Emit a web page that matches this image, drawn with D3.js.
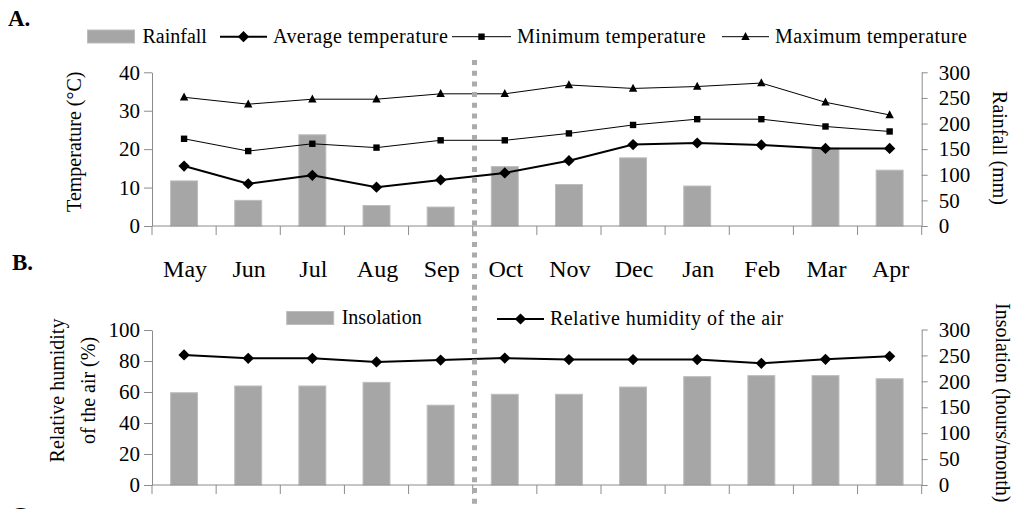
<!DOCTYPE html>
<html>
<head>
<meta charset="utf-8">
<script src="https://cdn.jsdelivr.net/npm/d3@7/dist/d3.min.js"></script>
<style>
  html, body { margin: 0; padding: 0; background: #fff; }
</style>
</head>
<body>
<svg id="chart" width="1017" height="509"></svg>
<script>
// Monthly climate series, May to April
const months = ["May","Jun","Jul","Aug","Sep","Oct","Nov","Dec","Jan","Feb","Mar","Apr"];
const rainfall = [88, 50, 178, 40, 37, 116, 81, 133, 78, 0, 152, 109];          // mm
const avgTemp  = [15.6, 11.0, 13.2, 10.1, 12.0, 13.8, 17.0, 21.2, 21.6, 21.1, 20.2, 20.2]; // °C
const minTemp  = [22.7, 19.5, 21.4, 20.4, 22.3, 22.3, 24.1, 26.3, 27.8, 27.8, 25.9, 24.6];
const maxTemp  = [33.5, 31.7, 33.0, 33.0, 34.4, 34.4, 36.7, 35.8, 36.3, 37.2, 32.2, 28.9];
const humidity = [83.9, 81.7, 81.7, 79.4, 80.6, 81.9, 80.9, 80.9, 80.9, 78.5, 81.1, 83.0]; // %
const insolation = [178, 191, 191, 198, 154, 175, 175, 189, 209, 211, 211, 205];  // hours/month

const tempTicks = [0, 10, 20, 30, 40];
const mmTicks = [0, 50, 100, 150, 200, 250, 300];
const humTicks = [0, 20, 40, 60, 80, 100];

const FONT = '"Liberation Serif"';
const svg = d3.select("#chart");
const AXIS = "#8c8c8c", BAR = "#a6a6a6", BAR_EDGE = "#bdbdbd";

const x = d3.scaleBand().domain(months).range([152, 921.7]).padding(0);
const cx = m => x(m) + x.bandwidth() / 2;
const barW = x.bandwidth() * 0.42;
const bounds = months.map(m => x(m)).concat([x.range()[1]]);

// marker shapes
const diamond = (w, h) => `M0,${-h}L${w},0L0,${h}L${-w},0Z`;
const square = s => `M${-s},${-s}H${s}V${s}H${-s}Z`;
const triangle = (w, h) => `M0,${-h * 0.6}L${w},${h * 0.4}L${-w},${h * 0.4}Z`;

function styleAxis(g) {
  g.select(".domain").attr("stroke", AXIS);
  g.selectAll(".tick line").attr("stroke", AXIS);
  g.selectAll(".tick text").attr("fill", "#000").style("font-size", "21px");
}

function panel(cfg) {
  const { yL, yR, leftTicks, rightTicks } = cfg;

  // bars on the right-hand scale
  svg.append("g").selectAll("rect").data(cfg.bars).join("rect")
    .attr("x", (d, i) => cx(months[i]) - barW / 2)
    .attr("y", d => yR(d))
    .attr("width", barW)
    .attr("height", d => yR(0) - yR(d))
    .attr("fill", BAR)
    .attr("stroke", d => d > 0 ? BAR_EDGE : "none")
    .attr("stroke-width", 1);

  // left axis
  svg.append("g").attr("transform", "translate(152,0)")
    .call(d3.axisLeft(yL).tickValues(leftTicks).tickSize(8).tickSizeOuter(0).tickPadding(4))
    .call(styleAxis);

  // right axis
  svg.append("g").attr("transform", `translate(${x.range()[1]},0)`)
    .call(d3.axisRight(yR).tickValues(rightTicks).tickSize(6).tickSizeOuter(0).tickPadding(11))
    .call(styleAxis);

  // category axis with boundary ticks
  const base = yL(0);
  const xa = svg.append("g");
  xa.append("line").attr("x1", x.range()[0]).attr("x2", x.range()[1])
    .attr("y1", base).attr("y2", base).attr("stroke", AXIS);
  xa.selectAll("line.tk").data(bounds).join("line").attr("class", "tk")
    .attr("x1", d => d).attr("x2", d => d).attr("y1", base).attr("y2", base + 9)
    .attr("stroke", AXIS);

  // line series
  cfg.lines.forEach(s => {
    const line = d3.line().x((d, i) => cx(months[i])).y(d => yL(d));
    svg.append("path").datum(s.data).attr("d", line)
      .attr("fill", "none").attr("stroke", "#000").attr("stroke-width", s.width);
    svg.append("g").selectAll("path").data(s.data).join("path")
      .attr("transform", (d, i) => `translate(${cx(months[i])},${yL(d)})`)
      .attr("d", s.marker).attr("fill", "#000");
  });
}

// Panel A: temperature and rainfall
const yT = d3.scaleLinear().domain([0, 40]).range([226, 72.3]);
const yRain = d3.scaleLinear().domain([0, 300]).range([226, 72.3]);
panel({
  yL: yT, yR: yRain, leftTicks: tempTicks, rightTicks: mmTicks,
  bars: rainfall,
  lines: [
    { data: maxTemp, width: 1, marker: triangle(4.2, 8) },
    { data: minTemp, width: 1, marker: square(3.2) },
    { data: avgTemp, width: 2, marker: diamond(5.7, 5.6) }
  ]
});

// Panel B: humidity and insolation
const yH = d3.scaleLinear().domain([0, 100]).range([485, 330]);
const yIns = d3.scaleLinear().domain([0, 300]).range([485, 329.5]);
panel({
  yL: yH, yR: yIns, leftTicks: humTicks, rightTicks: mmTicks,
  bars: insolation,
  lines: [
    { data: humidity, width: 2, marker: diamond(5.7, 5.6) }
  ]
});

// month labels between the panels
svg.append("g").selectAll("text").data(months).join("text")
  .attr("x", d => cx(d) + 1).attr("y", 277)
  .attr("text-anchor", "middle").style("font-size", "24px").text(d => d);

// axis titles
svg.append("text").attr("transform", "translate(74,141.7) rotate(-90)")
  .attr("text-anchor", "middle").attr("dy", 7).style("font-size", "20px").text("Temperature (°C)");
svg.append("text").attr("transform", "translate(1000,148) rotate(90)")
  .attr("text-anchor", "middle").attr("dy", 7).style("font-size", "20px").text("Rainfall (mm)");
svg.append("text").attr("transform", "translate(56.7,390.5) rotate(-90)")
  .attr("text-anchor", "middle").style("font-size", "20px")
  .call(t => {
    t.append("tspan").attr("x", 0).attr("dy", 7).text("Relative humidity");
    t.append("tspan").attr("x", 0).attr("dy", 31.6).text("of the air (%)");
  });
svg.append("text").attr("transform", "translate(1003,303) rotate(90)")
  .attr("text-anchor", "start").attr("dy", 7).style("font-size", "20px")
  .text("Insolation (hours/month)");

// legends
function legendBar(x0, yc, label) {
  svg.append("rect").attr("x", x0).attr("y", yc - 6.5).attr("width", 47).attr("height", 13)
    .attr("fill", BAR).attr("stroke", BAR_EDGE);
  svg.append("text").attr("x", x0 + 55).attr("y", yc + 6).style("font-size", "20px").text(label);
}
function legendLine(x0, x1, yc, marker, width, label) {
  svg.append("line").attr("x1", x0).attr("x2", x1).attr("y1", yc).attr("y2", yc)
    .attr("stroke", "#000").attr("stroke-width", width);
  svg.append("path").attr("transform", `translate(${(x0 + x1) / 2},${yc})`).attr("d", marker).attr("fill", "#000");
  svg.append("text").attr("x", x1 + 6).attr("y", yc + 6).style("font-size", "20px")
    .style("letter-spacing", "0.45px").text(label);
}
legendBar(87.5, 36.5, "Rainfall");
legendLine(220, 267, 36.7, diamond(5.7, 5.6), 2, "Average temperature");
legendLine(452, 511, 36.7, square(3.2), 1, "Minimum temperature");
legendLine(722, 769, 36.7, triangle(4.2, 8), 1, "Maximum temperature");

legendBar(286.7, 318, "Insolation");
legendLine(497, 544, 319, diamond(5.7, 5.6), 2, "Relative humidity of the air");

// season divider
svg.append("line").attr("x1", 474.5).attr("x2", 474.5).attr("y1", 60).attr("y2", 509)
  .attr("stroke", "#ababab").attr("stroke-width", 5).attr("stroke-dasharray", "5,5.7");

// panel letters
[["A.", 8, 25.5], ["B.", 12, 270], ["C.", 11, 523]].forEach(([t, px, py]) => {
  svg.append("text").attr("x", px).attr("y", py).style("font-size", "23px")
    .style("font-weight", "bold").text(t);
});

// serif face for every label
svg.selectAll("text").style("font-family", FONT);
</script>
</body>
</html>
